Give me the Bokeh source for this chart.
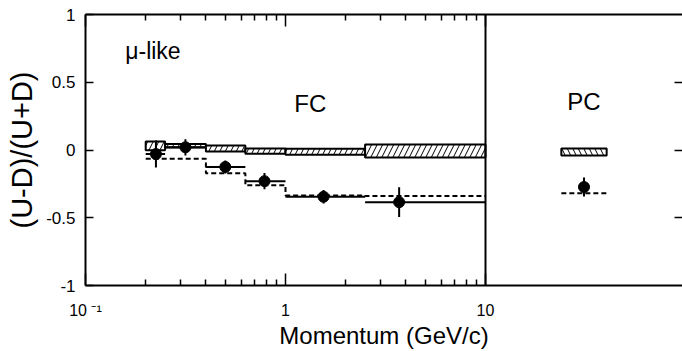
import math
from bokeh.plotting import figure
from bokeh.models import (Range1d, LinearScale, LogAxis, LinearAxis, FixedTicker,
                          Span, ColumnDataSource, Label)
from bokeh.embed import file_html
from bokeh.resources import INLINE

# ---------------- data ----------------
# FC momentum bins (GeV/c)
fc_lo = [0.2, 0.25, 0.4, 0.63, 1.0, 2.5]
fc_hi = [0.25, 0.4, 0.63, 1.0, 2.5, 10.0]
# measured asymmetry (points) at mean momentum
fc_p = [0.225, 0.316, 0.5, 0.785, 1.55, 3.7]
fc_data = [-0.03, 0.02, -0.125, -0.23, -0.345, -0.385]
fc_err = [0.10, 0.06, 0.048, 0.06, 0.05, 0.11]
# MC no-oscillation expectation (hatched boxes): centre and half height
fc_mc = [0.03, 0.032, 0.011, -0.008, -0.013, -0.008]
fc_mc_err = [0.032, 0.013, 0.022, 0.019, 0.022, 0.048]
# oscillation expectation (dashed)
fc_osc = [-0.065, -0.065, -0.172, -0.26, -0.335, -0.34]

# PC sample
pc_data = [-0.273]
pc_err = [0.07]
pc_mc = [-0.015]
pc_mc_err = [0.026]
pc_osc = [-0.32]

x_ticks = [0.1, 1, 10]
x_labels = ["10 \u207b\u00b9", "1", "10"]
y_ticks = [-1, -0.5, 0, 0.5, 1]
y_labels = ["-1", "-0.5", "0", "0.5", "1"]

# ---------------- layout constants ----------------
FONT = "Liberation Sans"
X_MAX_DEC = 1.985           # frame continues past 10 GeV/c to hold the PC panel
PC_X = 0.5                  # PC panel is [0, 1] in its own coordinates
PC_HALF = 0.115

p = figure(x_axis_type="log", x_range=Range1d(0.1, 10 ** X_MAX_DEC),
           y_range=Range1d(-1, 1), frame_width=597, frame_height=271,
           min_border_left=85, min_border_right=0, min_border_top=14,
           min_border_bottom=66, output_backend="svg", toolbar_location=None,
           background_fill_color="white", border_fill_color="white")
p.outline_line_color = None
p.xgrid.visible = False
p.ygrid.visible = False

fc_decades = 1 - (-1)
pc_decades = X_MAX_DEC - 1
p.extra_x_ranges = {"pc": Range1d(-fc_decades / pc_decades, 1)}
p.extra_x_scales = {"pc": LinearScale()}

minor = [m * 0.1 for m in range(2, 10)] + [float(m) for m in range(2, 10)]

# bottom axis
xa = p.xaxis[0]
xa.ticker = FixedTicker(ticks=x_ticks, minor_ticks=minor)
xa.major_label_overrides = {float(t): l for t, l in zip(x_ticks, x_labels)}
xa.axis_label = "Momentum (GeV/c)"
xa.major_tick_in = 12
xa.major_tick_out = 0
xa.minor_tick_in = 6
xa.minor_tick_out = 0
xa.axis_line_width = 2
xa.major_tick_line_width = 1.5
xa.minor_tick_line_width = 1.5
xa.major_label_standoff = 16
xa.major_label_text_font = FONT
xa.major_label_text_font_size = "16px"
xa.major_label_text_color = "black"
xa.axis_label_text_font = FONT
xa.axis_label_text_font_size = "24px"
xa.axis_label_text_font_style = "normal"
xa.axis_label_text_color = "black"
xa.axis_label_standoff = 0

# top axis (ticks only)
top = LogAxis(ticker=FixedTicker(ticks=x_ticks, minor_ticks=minor),
              major_label_overrides={float(t): "" for t in x_ticks},
              major_label_standoff=0,
              major_tick_in=12, major_tick_out=0, minor_tick_in=6, minor_tick_out=0,
              axis_line_width=2, major_tick_line_width=1.5, minor_tick_line_width=1.5)
p.add_layout(top, "above")

# left axis
ya = p.yaxis[0]
ya.ticker = FixedTicker(ticks=y_ticks)
ya.major_label_overrides = {float(t): l for t, l in zip(y_ticks, y_labels)}
ya.major_tick_in = 8
ya.major_tick_out = 0
ya.minor_tick_in = 0
ya.minor_tick_out = 0
ya.axis_line_width = 2
ya.major_tick_line_width = 1.5
ya.major_label_standoff = 10
ya.major_label_text_font = FONT
ya.major_label_text_font_size = "17px"
ya.major_label_text_color = "black"
ya.axis_label = "(U-D)/(U+D)"
ya.axis_label_text_font = FONT
ya.axis_label_text_font_size = "29px"
ya.axis_label_text_font_style = "normal"
ya.axis_label_text_color = "black"
ya.axis_label_standoff = 5

# right axis (ticks only, border line beyond the picture)
r_ticks = [-0.5, 0, 0.5]
right = LinearAxis(ticker=FixedTicker(ticks=r_ticks), axis_line_color=None,
                   major_label_overrides={float(t): "" for t in r_ticks},
                   major_label_standoff=0,
                   major_tick_in=8, major_tick_out=0, minor_tick_in=0, minor_tick_out=0,
                   major_tick_line_width=1.5)
p.add_layout(right, "right")

# divider between FC and PC
p.add_layout(Span(location=10, dimension="height", line_color="black", line_width=2))

# ---------------- FC glyphs ----------------
box_src = ColumnDataSource(dict(
    left=fc_lo, right=fc_hi,
    bottom=[c - e for c, e in zip(fc_mc, fc_mc_err)],
    top=[c + e for c, e in zip(fc_mc, fc_mc_err)]))
p.quad(left="left", right="right", bottom="bottom", top="top", source=box_src,
       fill_color="white", line_color="black", line_width=2,
       hatch_pattern="/", hatch_color="black", hatch_scale=11, hatch_weight=1)

step_src = ColumnDataSource(dict(x=fc_lo + [fc_hi[-1]], y=fc_osc + [fc_osc[-1]]))
p.step(x="x", y="y", mode="after", source=step_src, line_color="black",
       line_width=2, line_dash="5 3")

dat_src = ColumnDataSource(dict(
    p=fc_p, y=fc_data, lo=fc_lo, hi=fc_hi,
    ylo=[d - e for d, e in zip(fc_data, fc_err)],
    yhi=[d + e for d, e in zip(fc_data, fc_err)]))
p.segment(x0="lo", x1="hi", y0="y", y1="y", source=dat_src, line_color="black", line_width=2)
p.segment(x0="p", x1="p", y0="ylo", y1="yhi", source=dat_src, line_color="black", line_width=2)
p.scatter(x="p", y="y", source=dat_src, size=11, marker="circle",
          fill_color="black", line_color="black")

# ---------------- PC glyphs ----------------
pc_src = ColumnDataSource(dict(
    x=[PC_X], l=[PC_X - PC_HALF], r=[PC_X + PC_HALF],
    y=pc_data, ylo=[d - e for d, e in zip(pc_data, pc_err)],
    yhi=[d + e for d, e in zip(pc_data, pc_err)],
    bottom=[c - e for c, e in zip(pc_mc, pc_mc_err)],
    top=[c + e for c, e in zip(pc_mc, pc_mc_err)], osc=pc_osc))
p.quad(left="l", right="r", bottom="bottom", top="top", source=pc_src, x_range_name="pc",
       fill_color="white", line_color="black", line_width=2,
       hatch_pattern="\\", hatch_color="black", hatch_scale=11, hatch_weight=1)
p.segment(x0="l", x1="r", y0="osc", y1="osc", source=pc_src, x_range_name="pc",
          line_color="black", line_width=2, line_dash="5 3")
p.segment(x0="x", x1="x", y0="ylo", y1="yhi", source=pc_src, x_range_name="pc",
          line_color="black", line_width=2)
p.scatter(x="x", y="y", source=pc_src, x_range_name="pc", size=11, marker="circle",
          fill_color="black", line_color="black")

# ---------------- texts ----------------
p.add_layout(Label(x=0.158, y=0.73, text="\u03bc-like", text_font=FONT, text_color="black",
                   text_font_size="23px", text_align="left", text_baseline="middle"))
p.add_layout(Label(x=1.33, y=0.34, text="FC", text_font=FONT, text_color="black",
                   text_font_size="24px", text_align="center", text_baseline="middle"))
p.add_layout(Label(x=PC_X, y=0.36, x_range_name="pc", text="PC", text_font=FONT,
                   text_color="black",
                   text_font_size="24px", text_align="center", text_baseline="middle"))

open("out.html", "w").write(file_html(p, INLINE))
